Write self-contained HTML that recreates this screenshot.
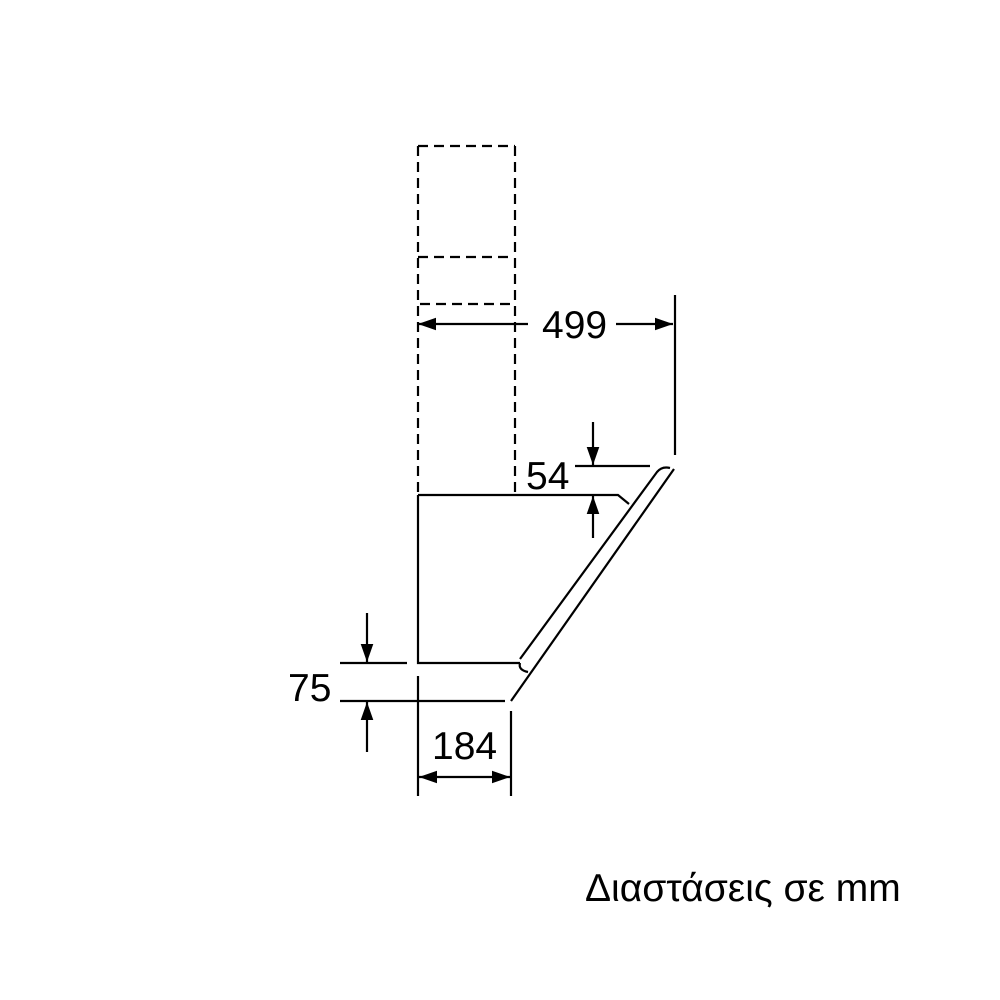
<!DOCTYPE html>
<html><head><style>body{margin:0;background:#fff}svg{display:block}</style></head>
<body>
<svg width="1000" height="1000" viewBox="0 0 1000 1000" xmlns="http://www.w3.org/2000/svg">
<defs>
<marker id="a" viewBox="0 0 10 10" refX="10" refY="5" markerWidth="18" markerHeight="18" markerUnits="userSpaceOnUse" orient="auto-start-reverse"><path d="M0,1.5 L10,5 L0,8.5 z" fill="#000"/></marker>
</defs>
<g stroke="#000" stroke-width="2.2" fill="none">
<g stroke-dasharray="10,6">
<line x1="418" y1="146" x2="515" y2="146"/>
<line x1="418" y1="146" x2="418" y2="495"/>
<line x1="515" y1="146" x2="515" y2="495"/>
<line x1="418" y1="257" x2="512" y2="257"/>
<line x1="420" y1="304" x2="512" y2="304"/>
</g>
<path d="M418,495 L418,663 L520,663"/>
<path d="M418,495 L618,495 L629,504"/>
<path d="M520,663 Q518,670 528,672"/>
<path d="M520,659 L657,472 Q662,466 670,468"/>
<path d="M674,469 L511,701"/>
<line x1="675" y1="295" x2="675" y2="455"/>
<line x1="418" y1="324" x2="528" y2="324" marker-start="url(#a)"/>
<line x1="616" y1="324" x2="673" y2="324" marker-end="url(#a)"/>
<line x1="575" y1="466" x2="650" y2="466"/>
<line x1="593" y1="422" x2="593" y2="465" marker-end="url(#a)"/>
<line x1="593" y1="538" x2="593" y2="496" marker-end="url(#a)"/>
<line x1="340" y1="663" x2="407" y2="663"/>
<line x1="340" y1="701" x2="505" y2="701"/>
<line x1="367" y1="613" x2="367" y2="662" marker-end="url(#a)"/>
<line x1="367" y1="752" x2="367" y2="702" marker-end="url(#a)"/>
<line x1="418" y1="676" x2="418" y2="796"/>
<line x1="511" y1="711" x2="511" y2="796"/>
<line x1="419" y1="777" x2="510" y2="777" marker-start="url(#a)" marker-end="url(#a)"/>
</g>
<g font-family="Liberation Sans, sans-serif" font-size="39" fill="#000">
<text x="542" y="338">499</text>
<text x="526" y="489">54</text>
<text x="288" y="701">75</text>
<text x="432" y="759">184</text>
<text x="585" y="901">Διαστάσεις σε mm</text>
</g>
</svg>
</body></html>
